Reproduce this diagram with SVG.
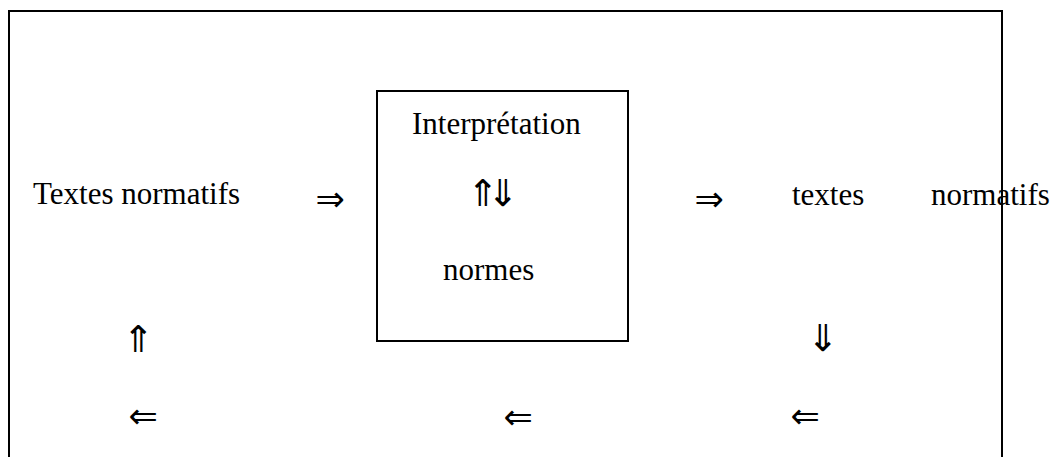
<svg xmlns="http://www.w3.org/2000/svg" width="1062" height="457" viewBox="0 0 1062 457">
<style>
.t{font-family:"Liberation Serif","Times New Roman",serif;font-size:31px;fill:#000}
.h{font-family:"DejaVu Sans",sans-serif;font-size:35px;fill:#000}
.v{font-family:"DejaVu Sans",sans-serif;font-size:37px;fill:#000}
.frame{fill:none;stroke:#000;stroke-width:2}
</style>
<rect width="1062" height="457" fill="#fff"/>
<g id="frame"><path class="frame" d="M9 470 V11 H1002 V470"/></g>
<g id="node-textes-left"><text class="t" x="33" y="204">Textes normatifs</text></g>
<g id="node-interpretation">
<rect class="frame" x="377" y="91" width="251" height="250"/>
<text class="t" x="412" y="134">Interprétation</text>
<text class="v" x="467" y="206" letter-spacing="-11">⇑⇓</text>
<text class="t" x="443" y="280">normes</text>
</g>
<g id="node-textes-right"><text class="t" x="792" y="205">textes</text><text class="t" x="931" y="205">normatifs</text></g>
<g id="connectors">
<text class="h" x="315.5" y="210.5">⇒</text>
<text class="h" x="694.5" y="210.5">⇒</text>
<text class="v" x="122.5" y="352">⇑</text>
<text class="v" x="807" y="351">⇓</text>
<text class="h" x="128.5" y="427.5">⇐</text>
<text class="h" x="503.5" y="428.5">⇐</text>
<text class="h" x="790.5" y="427.5">⇐</text>
</g>
</svg>
